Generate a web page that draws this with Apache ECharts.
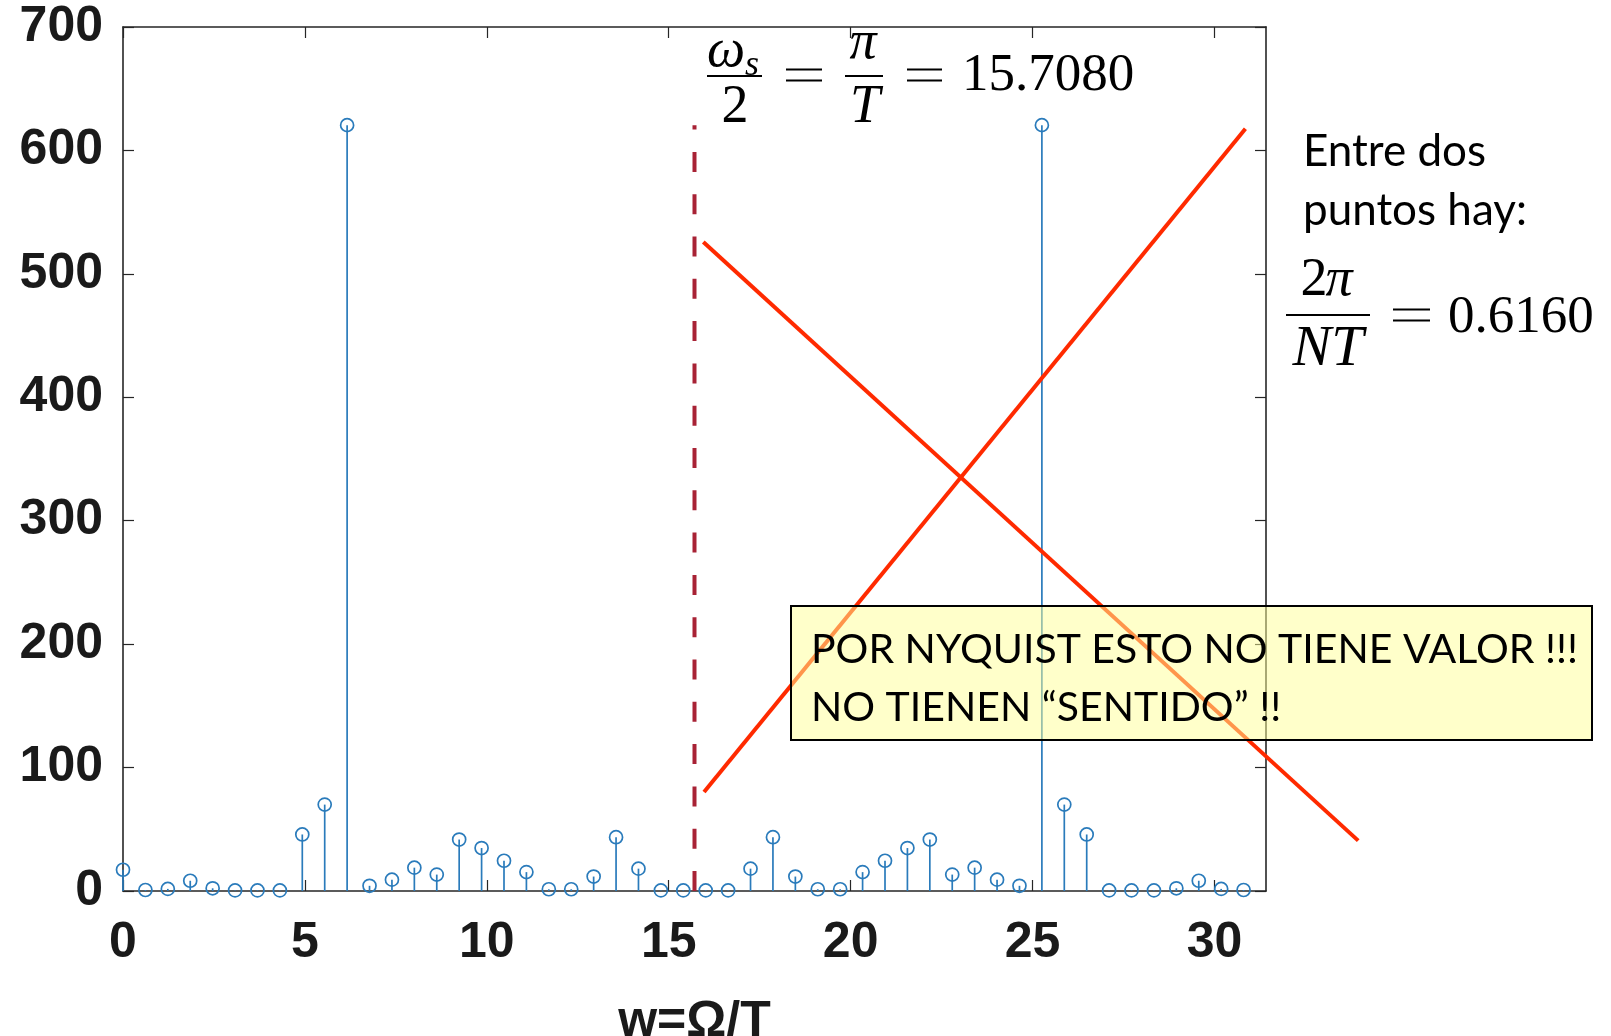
<!DOCTYPE html>
<html>
<head>
<meta charset="utf-8">
<script src="https://cdn.jsdelivr.net/npm/echarts@6/dist/echarts.min.js"></script>
<style>
html,body{margin:0;padding:0;background:#fff;}
#chart{width:1611px;height:1036px;}
</style>
</head>
<body>
<div id="chart"></div>
<script>
// ---- data ----
const xTicks = [0, 5, 10, 15, 20, 25, 30];
const yTicks = [0, 100, 200, 300, 400, 500, 600, 700];
const xMax = 31.4159;
const yMax = 700;
const freq = [0, 0.616, 1.232, 1.848, 2.464, 3.080, 3.696, 4.312, 4.928, 5.544,
  6.160, 6.776, 7.392, 8.008, 8.624, 9.240, 9.856, 10.472, 11.088, 11.704,
  12.320, 12.936, 13.552, 14.168, 14.784, 15.400, 16.016, 16.632, 17.248, 17.864,
  18.480, 19.096, 19.712, 20.328, 20.944, 21.560, 22.176, 22.792, 23.408, 24.024,
  24.640, 25.256, 25.872, 26.488, 27.104, 27.720, 28.336, 28.952, 29.568, 30.184, 30.800];
const magnitude = [17.2, 0.8, 1.7, 8.3, 2.2, 0.5, 0.5, 0.5, 45.8, 70.0,
  620.5, 4.2, 9.2, 18.9, 13.3, 41.7, 34.8, 24.5, 15.3, 1.4,
  1.4, 11.7, 43.6, 18.1, 0.5, 0.5, 0.5, 0.5, 18.1, 43.6,
  11.7, 1.4, 1.4, 15.3, 24.5, 34.8, 41.7, 13.3, 18.9, 9.2,
  4.2, 620.5, 70.0, 45.8, 0.5, 0.5, 0.5, 2.2, 8.3, 1.7, 0.8];
const nyquist = 15.7080;
const nyquistTop = 620.5;
const crossA = [15.95, 525.8, 33.95, 40.8];
const crossB = [15.97, 80.2, 30.85, 617.6];
const xName = 'w=Ω/T';
const boxLines = ['POR NYQUIST ESTO NO TIENE VALOR !!!', 'NO TIENEN “SENTIDO” !!'];
const noteLines = ['Entre dos', 'puntos hay:'];

// ---- chart ----
const chart = echarts.init(document.getElementById('chart'), null, {renderer: 'canvas'});
const axisColor = '#262626';
const labelFont = {fontFamily: '"Liberation Sans", Arial, sans-serif', fontWeight: 'bold', fontSize: 50, color: '#1a1a1a'};
const stemColor = '#2a7bbb';
const serif = '"Liberation Serif", "DejaVu Serif", serif';
const sans = 'Lato, "Open Sans", sans-serif';

function txt(text, x, y, font, align, vAlign) {
  return {type: 'text', x: x, y: y, z: 50, silent: true,
    style: {text: text, font: font, fill: '#000', align: align || 'center', verticalAlign: vAlign || 'middle'}};
}
function bar(x1, x2, y) {
  return {type: 'rect', z: 50, silent: true, shape: {x: x1, y: y - 1.1, width: x2 - x1, height: 2.2}, style: {fill: '#000'}};
}
function eq(x1, x2, yc) {
  return [bar(x1, x2, yc - 5.5), bar(x1, x2, yc + 5.5)];
}

const graphics = [
  // omega_s / 2 = pi / T = 15.7080
  txt('ω', 726, 52, 'italic 54px ' + serif),
  txt('s', 752, 66, 'italic 36px ' + serif),
  bar(707, 762, 76),
  txt('2', 735, 108, '54px ' + serif),
  ...eq(786, 822, 75),
  txt('π', 863, 44, 'italic 54px ' + serif),
  bar(845, 883, 76),
  txt('T', 865, 108, 'italic 54px ' + serif),
  ...eq(907, 942, 75),
  txt('15.7080', 962, 76, '53px ' + serif, 'left'),
  // note
  txt(noteLines[0], 1303, 152, '44px ' + sans, 'left'),
  txt(noteLines[1], 1303, 211, '44px ' + sans, 'left'),
  txt('2', 1314, 281, '54px ' + serif),
  txt('π', 1339, 281, 'italic 54px ' + serif),
  bar(1286, 1370, 315),
  txt('NT', 1328, 350, 'italic 58px ' + serif),
  ...eq(1393, 1430, 315),
  txt('0.6160', 1448, 318, '53px ' + serif, 'left'),
  // yellow box
  {type: 'rect', z: 40, silent: true, shape: {x: 791, y: 606, width: 801, height: 134},
    style: {fill: 'rgba(255,255,150,0.5)', stroke: '#000', lineWidth: 2}},
  txt(boxLines[0], 811, 650, '41px ' + sans, 'left'),
  txt(boxLines[1], 811, 708, '41px ' + sans, 'left')
];

function lineSegItem(params, api) {
  const p1 = api.coord([api.value(0), api.value(1)]);
  const p2 = api.coord([api.value(2), api.value(3)]);
  return {type: 'line', shape: {x1: p1[0], y1: p1[1], x2: p2[0], y2: p2[1]},
    style: {stroke: '#ff2a00', lineWidth: 4, lineCap: 'butt'}};
}

const option = {
  animation: false,
  backgroundColor: '#fff',
  grid: {left: 123, right: 345, top: 27, bottom: 145, containLabel: false, outerBoundsMode: 'none'},
  xAxis: [{
    type: 'value', min: 0, max: xMax, position: 'bottom',
    name: xName, nameLocation: 'middle', nameGap: 106,
    nameTextStyle: {fontFamily: labelFont.fontFamily, fontWeight: 'bold', fontSize: 50, color: '#1a1a1a'},
    axisLine: {show: true, onZero: false, lineStyle: {color: axisColor, width: 1.6}},
    axisTick: {show: true, inside: true, length: 11, customValues: xTicks, lineStyle: {color: axisColor, width: 1.2}},
    axisLabel: {show: true, customValues: xTicks, margin: 27, ...labelFont},
    splitLine: {show: false}
  }, {
    type: 'value', min: 0, max: xMax, position: 'top',
    axisLine: {show: true, onZero: false, lineStyle: {color: axisColor, width: 1.6}},
    axisTick: {show: true, inside: true, length: 11, customValues: xTicks, lineStyle: {color: axisColor, width: 1.2}},
    axisLabel: {show: false},
    splitLine: {show: false}
  }],
  yAxis: [{
    type: 'value', min: 0, max: yMax, interval: 100, position: 'left',
    axisLine: {show: true, onZero: false, lineStyle: {color: axisColor, width: 1.6}},
    axisTick: {show: true, inside: true, length: 11, lineStyle: {color: axisColor, width: 1.2}},
    axisLabel: {show: true, margin: 20, ...labelFont},
    splitLine: {show: false}
  }, {
    type: 'value', min: 0, max: yMax, interval: 100, position: 'right',
    axisLine: {show: true, onZero: false, lineStyle: {color: axisColor, width: 1.6}},
    axisTick: {show: true, inside: true, length: 11, lineStyle: {color: axisColor, width: 1.2}},
    axisLabel: {show: false},
    splitLine: {show: false}
  }],
  series: [{
    type: 'custom', name: 'stem', z: 3, silent: true,
    data: freq.map((f, i) => [f, magnitude[i]]),
    renderItem: function (params, api) {
      const p0 = api.coord([api.value(0), 0]);
      const p1 = api.coord([api.value(0), api.value(1)]);
      return {type: 'group', children: [
        {type: 'line', shape: {x1: p0[0], y1: p0[1], x2: p1[0], y2: p1[1]}, style: {stroke: stemColor, lineWidth: 1.7}},
        {type: 'circle', shape: {cx: p1[0], cy: p1[1], r: 6.5}, style: {fill: 'none', stroke: stemColor, lineWidth: 1.7}}
      ]};
    }
  }, {
    type: 'line', name: 'nyquist', z: 4, silent: true, symbol: 'none',
    data: [[nyquist, 0], [nyquist, nyquistTop]],
    lineStyle: {color: '#a82235', width: 4, type: [20, 22.3]}
  }, {
    type: 'custom', name: 'cross', z: 5, silent: true, clip: false,
    data: [crossA, crossB],
    renderItem: lineSegItem
  }],
  graphic: {elements: graphics}
};
chart.setOption(option);
</script>
</body>
</html>
